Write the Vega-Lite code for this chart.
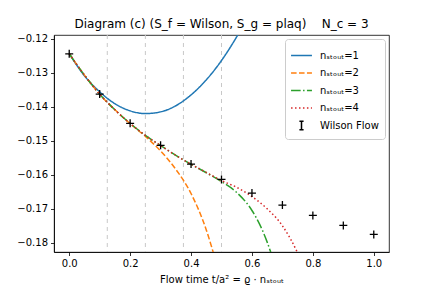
{
  "$schema": "https://vega.github.io/schema/vega-lite/v6.json",
  "width": 335,
  "height": 217,
  "autosize": "none",
  "padding": {"left": 54, "top": 35, "right": 43, "bottom": 36},
  "background": "white",
  "config": {
    "font": "DejaVu Sans",
    "view": {"stroke": "black", "strokeWidth": 0.8},
    "axis": {
      "domainColor": "black", "domainWidth": 0.8, "tickColor": "black", "tickWidth": 0.8,
      "tickSize": 3.5, "labelFont": "DejaVu Sans", "labelFontSize": 10, "labelColor": "black",
      "labelPadding": 3, "grid": false, "titleFont": "DejaVu Sans", "titleFontSize": 10,
      "titleFontWeight": "normal", "titleColor": "black"
    },
    "title": {"font": "DejaVu Sans", "fontSize": 12, "fontWeight": "normal", "color": "black"}
  },
  "title": {"text": "Diagram (c) (S_f = Wilson, S_g = plaq)\u00a0\u00a0\u00a0 N_c = 3", "anchor": "middle", "frame": "group", "offset": 3},
  "datasets": {
    "vlines": [{"t": 0.125}, {"t": 0.25}, {"t": 0.375}, {"t": 0.5}],
    "curves": [
      {"series": "1", "t": 0.0, "y": -0.1244},
      {"series": "1", "t": 0.05, "y": -0.1309},
      {"series": "1", "t": 0.1, "y": -0.1356},
      {"series": "1", "t": 0.15, "y": -0.1391},
      {"series": "1", "t": 0.2, "y": -0.1412},
      {"series": "1", "t": 0.25, "y": -0.1420},
      {"series": "1", "t": 0.3, "y": -0.1415},
      {"series": "1", "t": 0.35, "y": -0.1397},
      {"series": "1", "t": 0.4, "y": -0.1365},
      {"series": "1", "t": 0.45, "y": -0.1321},
      {"series": "1", "t": 0.5, "y": -0.1264},
      {"series": "1", "t": 0.55, "y": -0.1194},
      {"series": "1", "t": 0.6, "y": -0.1111},
      {"series": "2", "t": 0.0, "y": -0.1244},
      {"series": "2", "t": 0.05, "y": -0.1307},
      {"series": "2", "t": 0.1, "y": -0.1363},
      {"series": "2", "t": 0.15, "y": -0.1409},
      {"series": "2", "t": 0.2, "y": -0.1450},
      {"series": "2", "t": 0.25, "y": -0.1487},
      {"series": "2", "t": 0.3, "y": -0.1530},
      {"series": "2", "t": 0.35, "y": -0.1584},
      {"series": "2", "t": 0.4, "y": -0.1655},
      {"series": "2", "t": 0.45, "y": -0.1762},
      {"series": "2", "t": 0.48, "y": -0.1850},
      {"series": "3", "t": 0.0, "y": -0.1244},
      {"series": "3", "t": 0.05, "y": -0.1307},
      {"series": "3", "t": 0.1, "y": -0.1363},
      {"series": "3", "t": 0.15, "y": -0.1409},
      {"series": "3", "t": 0.2, "y": -0.1449},
      {"series": "3", "t": 0.25, "y": -0.1484},
      {"series": "3", "t": 0.3, "y": -0.1514},
      {"series": "3", "t": 0.35, "y": -0.1543},
      {"series": "3", "t": 0.4, "y": -0.1569},
      {"series": "3", "t": 0.45, "y": -0.1594},
      {"series": "3", "t": 0.5, "y": -0.1620},
      {"series": "3", "t": 0.55, "y": -0.1652},
      {"series": "3", "t": 0.6, "y": -0.1705},
      {"series": "3", "t": 0.625, "y": -0.1745},
      {"series": "3", "t": 0.65, "y": -0.1798},
      {"series": "3", "t": 0.67, "y": -0.1850},
      {"series": "4", "t": 0.0, "y": -0.1244},
      {"series": "4", "t": 0.05, "y": -0.1307},
      {"series": "4", "t": 0.1, "y": -0.1363},
      {"series": "4", "t": 0.15, "y": -0.1409},
      {"series": "4", "t": 0.2, "y": -0.1449},
      {"series": "4", "t": 0.25, "y": -0.1484},
      {"series": "4", "t": 0.3, "y": -0.1514},
      {"series": "4", "t": 0.35, "y": -0.1543},
      {"series": "4", "t": 0.4, "y": -0.1569},
      {"series": "4", "t": 0.45, "y": -0.1593},
      {"series": "4", "t": 0.5, "y": -0.1617},
      {"series": "4", "t": 0.55, "y": -0.1637},
      {"series": "4", "t": 0.6, "y": -0.1664},
      {"series": "4", "t": 0.65, "y": -0.1700},
      {"series": "4", "t": 0.7, "y": -0.1750},
      {"series": "4", "t": 0.725, "y": -0.1786},
      {"series": "4", "t": 0.75, "y": -0.1830},
      {"series": "4", "t": 0.765, "y": -0.1860}
    ],
    "wilson": [
      {"series": "Wilson Flow", "t": 0.0, "y": -0.12444},
      {"series": "Wilson Flow", "t": 0.1, "y": -0.13626},
      {"series": "Wilson Flow", "t": 0.2, "y": -0.14488},
      {"series": "Wilson Flow", "t": 0.3, "y": -0.15135},
      {"series": "Wilson Flow", "t": 0.4, "y": -0.15685},
      {"series": "Wilson Flow", "t": 0.5, "y": -0.16135},
      {"series": "Wilson Flow", "t": 0.6, "y": -0.16538},
      {"series": "Wilson Flow", "t": 0.7, "y": -0.16891},
      {"series": "Wilson Flow", "t": 0.8, "y": -0.17194},
      {"series": "Wilson Flow", "t": 0.9, "y": -0.17488},
      {"series": "Wilson Flow", "t": 1.0, "y": -0.17753}
    ]
  },
  "encoding": {
    "x": {"field": "t", "type": "quantitative",
      "scale": {"domain": [-0.05, 1.05], "nice": false, "zero": false},
      "axis": {"values": [0, 0.2, 0.4, 0.6, 0.8, 1.0], "format": ".1f", "title": "Flow time t/a² = ϱ · nₛₜₒᵤₜ", "titlePadding": 6}},
    "y": {"field": "y", "type": "quantitative",
      "scale": {"domain": [-0.1827, -0.1189], "nice": false, "zero": false},
      "axis": {"values": [-0.18, -0.17, -0.16, -0.15, -0.14, -0.13, -0.12], "format": ".2f", "title": null}}
  },
  "layer": [
    {
      "data": {"name": "vlines"},
      "mark": {"type": "rule", "color": "#c8c8c8", "strokeWidth": 1, "strokeDash": [4, 4]},
      "encoding": {"y": null}
    },
    {
      "data": {"name": "curves"},
      "mark": {"type": "line", "clip": true, "strokeWidth": 1.5, "interpolate": "monotone"},
      "encoding": {
        "color": {"field": "series", "type": "nominal",
          "scale": {"domain": ["1", "2", "3", "4", "Wilson Flow"], "range": ["#1f77b4", "#ff7f0e", "#2ca02c", "#d62728", "black"]},
          "legend": {
            "title": null, "orient": "top-right", "offset": 4, "padding": 6,
            "fillColor": "rgba(255,255,255,0.8)", "strokeColor": "#cccccc", "cornerRadius": 3,
            "labelFont": "DejaVu Sans", "labelFontSize": 10, "labelColor": "black",
            "symbolSize": 361, "rowPadding": 1.5, "labelOffset": 8, "symbolStrokeWidth": 1.5,
            "labelExpr": "datum.value === 'Wilson Flow' ? 'Wilson Flow' : 'nₛₜₒᵤₜ=' + datum.value",
            "encode": {"symbols": {"update": {
              "shape": {"signal": "datum.value === 'Wilson Flow' ? 'M-0.22,-0.45L0.22,-0.45M0,-0.45L0,0.45M-0.22,0.45L0.22,0.45' : 'M-1.1,0L1.1,0'"},
              "strokeDash": {"signal": "datum.value === '2' ? [5.55, 2.4] : datum.value === '3' ? [9.6, 2.4, 1.5, 2.4] : datum.value === '4' ? [1.5, 2.47] : [1, 0]"},
              "fill": {"value": "transparent"},
              "opacity": {"value": 1},
              "strokeWidth": {"value": 1.5}
            }}}
          }},
        "strokeDash": {"field": "series", "type": "nominal",
          "scale": {"domain": ["1", "2", "3", "4"], "range": [[1, 0], [5.55, 2.4], [9.6, 2.4, 1.5, 2.4], [1.5, 2.47]]},
          "legend": null}
      }
    },
    {
      "data": {"name": "wilson"},
      "mark": {"type": "point", "shape": "M-1,0L1,0M0,-1L0,1", "size": 64, "filled": false, "strokeWidth": 1.3, "opacity": 1},
      "encoding": {"color": {"field": "series", "type": "nominal"}}
    }
  ]
}
